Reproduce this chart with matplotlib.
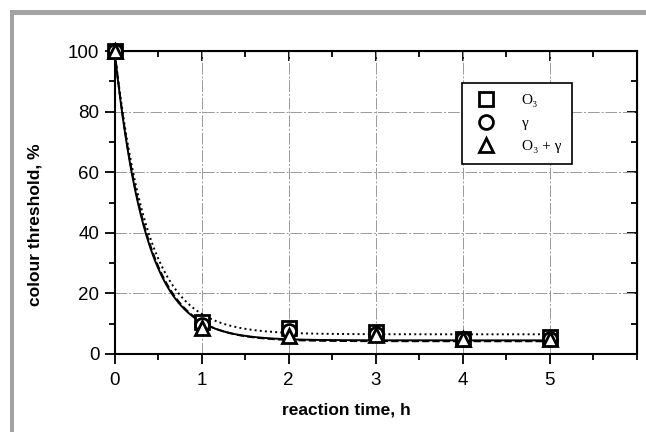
import numpy as np
import matplotlib
matplotlib.use('Agg')
import matplotlib.pyplot as plt
from matplotlib.patches import Rectangle
from matplotlib.lines import Line2D
from matplotlib.ticker import MultipleLocator

# measured points
hours = [0, 1, 2, 3, 4, 5]
o3 = [100, 10.5, 8.6, 7.2, 5.0, 5.5]
gamma = [100, 9.5, 7.5, 6.5, 5.0, 5.0]
o3_gamma = [100, 8.5, 6.0, 6.2, 5.0, 5.0]

# exponential decay fits: (plateau, decay time in h)
fit_o3 = (6.5, 0.38)
fit_gamma = (4.2, 0.37)
fit_o3_gamma = (4.5, 0.36)

labels = ['O\u2083', '\u03b3', 'O\u2083 + \u03b3']

narrow = ['Liberation Sans Narrow', 'Liberation Sans', 'DejaVu Sans']
sans = ['Liberation Sans', 'DejaVu Sans']

fig = plt.figure(figsize=(6.46, 4.32), dpi=100)
W, H = 646, 432

# grey frame (top and left bars)
fig.patches.append(Rectangle((10 / W, 0), 4 / W, 1 - 10 / H, transform=fig.transFigure,
                             color='#a3a3a3', lw=0))
fig.patches.append(Rectangle((10 / W, 1 - 15 / H), 1 - 10 / W, 5 / H, transform=fig.transFigure,
                             color='#a3a3a3', lw=0))

ax = fig.add_axes([114.6 / W, 1 - 354 / H, (637 - 114.6) / W, (354 - 51) / H])

t = np.linspace(0, 5, 300)
for (plateau, tau), ls in [(fit_o3, ':'), (fit_gamma, '--'), (fit_o3_gamma, '-')]:
    ax.plot(t, plateau + (100 - plateau) * np.exp(-t / tau), color='black',
            ls=ls, lw=1.4, zorder=3)

mk = dict(ls='none', mfc='white', mec='black', mew=2.0, ms=10, clip_on=False, zorder=5)
ax.plot(hours, o3, marker='s', **mk)
ax.plot(hours, gamma, marker='o', **mk)
ax.plot(hours, o3_gamma, marker='^', **mk)

ax.set_xlim(0, 6)
ax.set_ylim(0, 100)
ax.set_xticks(hours)
ax.xaxis.set_minor_locator(MultipleLocator(0.5))
ax.yaxis.set_major_locator(MultipleLocator(20))
ax.yaxis.set_minor_locator(MultipleLocator(10))
ax.grid(True, which='major', color='0.6', lw=0.7, ls=(0, (12, 2, 2, 2)), zorder=0)
ax.set_axisbelow(True)

for s in ax.spines.values():
    s.set_linewidth(1.5)

ax.tick_params(which='both', direction='out', width=1.3, bottom=True, left=True)
ax.tick_params(which='major', length=7, labelsize=13.5)
ax.tick_params(axis='x', which='major', pad=6)
ax.tick_params(axis='y', which='major', pad=4)
ax.tick_params(which='minor', length=4)
for lab in ax.get_xticklabels() + ax.get_yticklabels():
    lab.set_family(sans)

# inward ticks on top and right
top = ax.secondary_xaxis('top')
top.set_xticks(hours)
top.xaxis.set_minor_locator(MultipleLocator(0.5))
top.tick_params(which='both', direction='in', width=1.3, labeltop=False)
top.tick_params(which='major', length=7)
top.tick_params(which='minor', length=4)
right = ax.secondary_yaxis('right')
right.yaxis.set_major_locator(MultipleLocator(20))
right.yaxis.set_minor_locator(MultipleLocator(10))
right.tick_params(which='both', direction='in', width=1.3, labelright=False)
right.tick_params(which='major', length=7)
right.tick_params(which='minor', length=4)

ax.set_xlabel('reaction time, h', family=narrow, weight='bold', fontsize=12.5)
ax.xaxis.set_label_coords(0.443, -0.16)
ax.set_ylabel('colour threshold, %', family=narrow, weight='bold', fontsize=12.5)
ax.yaxis.set_label_coords(-0.138, 0.426)

handles = [Line2D([], [], marker=m, ls='none', mfc='white', mec='black', mew=2.0, ms=10)
           for m in ['s', 'o', '^']]
leg = ax.legend(handles, labels, loc='upper left',
                bbox_to_anchor=((462 - 114.6) / (637 - 114.6), (354 - 83) / 303),
                frameon=True, fancybox=False, edgecolor='black', framealpha=1,
                prop={'family': ['Liberation Serif', 'DejaVu Serif'], 'size': 11},
                handletextpad=1.4, borderpad=0.7, labelspacing=0.6, borderaxespad=0,
                handlelength=1.8)
leg.get_frame().set_linewidth(1.2)

fig.savefig('out.png', dpi=100)
